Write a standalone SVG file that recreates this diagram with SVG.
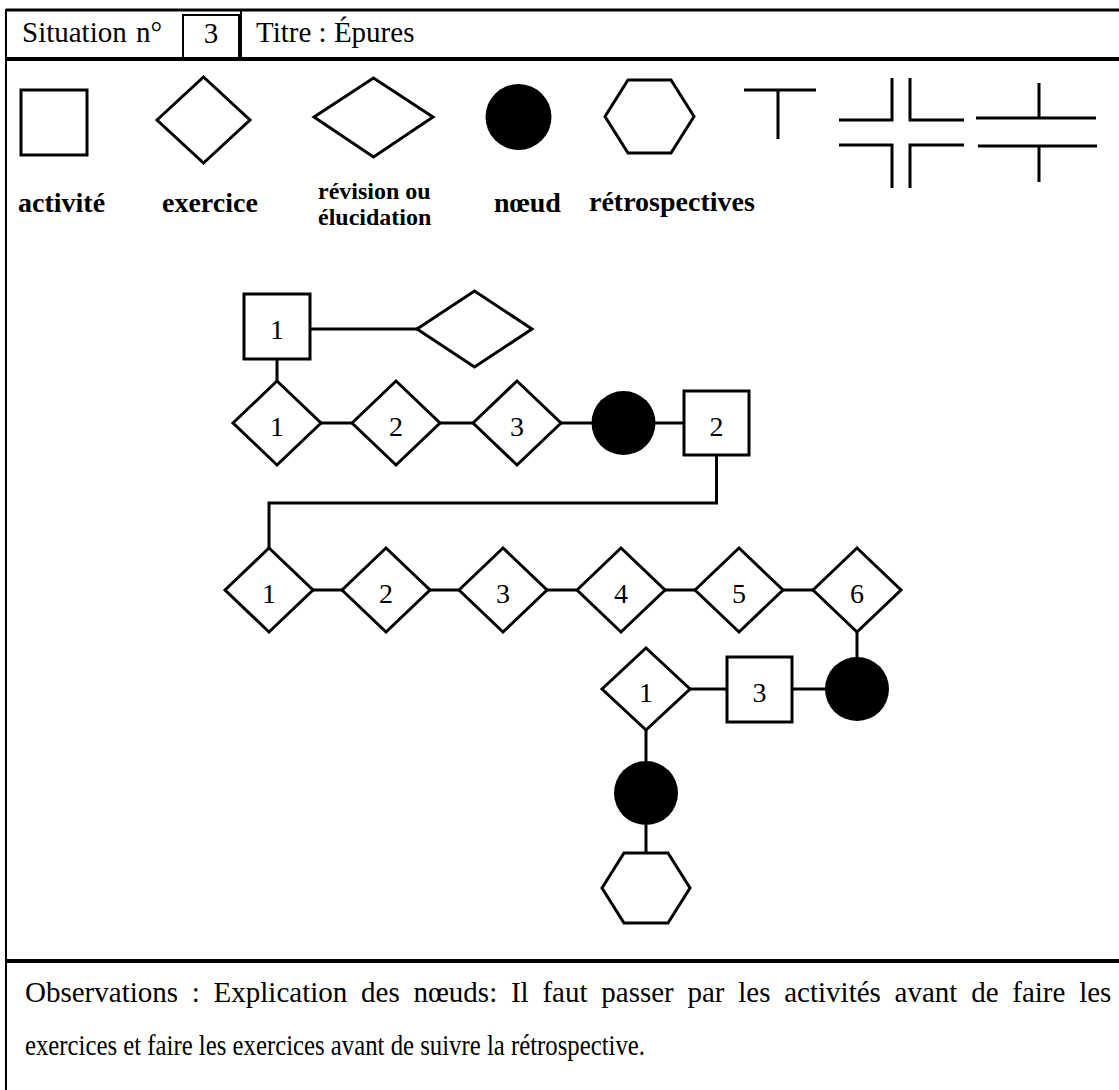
<svg xmlns="http://www.w3.org/2000/svg" width="1119" height="1090" viewBox="0 0 1119 1090">
<style>
.s{fill:#fff;stroke:#000;stroke-width:3;stroke-linejoin:miter}
.k{fill:#000;stroke:none}
.c{stroke:#000;stroke-width:3;fill:none}
.f{stroke:#000;fill:none}
.t{font-family:"Liberation Serif","Times New Roman",serif;fill:#000}
.n{font-size:28px;text-anchor:middle}
.b{font-weight:bold}
</style>
<rect width="1119" height="1090" fill="#fff"/>
<g id="frame" class="f">
<line x1="6" y1="10" x2="1119" y2="10" stroke-width="3"/>
<line x1="6" y1="9" x2="6" y2="1090" stroke-width="2"/>
<line x1="6" y1="59" x2="1119" y2="59" stroke-width="4"/>
<line x1="241" y1="10" x2="241" y2="59" stroke-width="2"/>
<rect x="183" y="15" width="56" height="44" stroke-width="2"/>
<line x1="6" y1="961" x2="1119" y2="961" stroke-width="4"/>
</g>
<g id="header" class="t" font-size="29">
<text x="22" y="42">Situation <tspan x="136">n°</tspan></text>
<text x="211" y="43" text-anchor="middle">3</text>
<text x="256" y="42">Titre : Épures</text>
</g>
<g id="legend">
<g id="leg-activite"><rect class="s" x="21" y="90" width="66" height="65"/><text class="t b" x="18" y="212" font-size="28">activité</text></g>
<g id="leg-exercice"><polygon class="s" points="157,120 203.5,77 250,120 203.5,163"/><text class="t b" x="162" y="212" font-size="28">exercice</text></g>
<g id="leg-revision"><polygon class="s" points="314,117 373.5,78 433,117 373.5,157"/><text class="t b" x="318" y="199" font-size="24">révision ou</text><text class="t b" x="318" y="225" font-size="24">élucidation</text></g>
<g id="leg-noeud"><circle class="k" cx="518.5" cy="117" r="33"/><text class="t b" x="494" y="212" font-size="28">nœud</text></g>
<g id="leg-retro"><polygon class="s" points="605,116.5 628,80 671,80 694,116.5 671,153 628,153"/><text class="t b" x="589" y="211" font-size="28">rétrospectives</text></g>
<g id="leg-links" class="c">
<path d="M744,90 H816 M778,90 V139"/>
<path d="M892,78 V120 H839 M910,78 V120 H964 M839,145 H892 V188 M964,145 H910 V188"/>
<path d="M976,118 H1096 M1039,83 V118 M978,146 H1097 M1039,146 V182"/>
</g>
</g>
<g id="connectors" class="c">
<line x1="310" y1="329" x2="417" y2="329"/>
<line x1="277" y1="359" x2="277" y2="381"/>
<line x1="321" y1="423" x2="352" y2="423"/>
<line x1="440" y1="423" x2="473" y2="423"/>
<line x1="561" y1="423" x2="592" y2="423"/>
<line x1="655" y1="423" x2="684" y2="423"/>
<path d="M716.5,455 V503 H269 V548"/>
<line x1="313" y1="590" x2="342" y2="590"/>
<line x1="430" y1="590" x2="459" y2="590"/>
<line x1="547" y1="590" x2="577" y2="590"/>
<line x1="665" y1="590" x2="695" y2="590"/>
<line x1="783" y1="590" x2="813" y2="590"/>
<line x1="857" y1="632" x2="857" y2="657"/>
<line x1="826" y1="689" x2="792" y2="689"/>
<line x1="727" y1="689" x2="690" y2="689"/>
<line x1="646" y1="730" x2="646" y2="761"/>
<line x1="646" y1="825" x2="646" y2="853"/>
</g>
<g id="a1"><rect class="s" x="244" y="294" width="66" height="65"/><text class="t n" x="277" y="339">1</text></g>
<g id="r1"><polygon class="s" points="417,329 474.5,291 532,329 474.5,367"/></g>
<g id="e1a"><polygon class="s" points="233,423 277,381 321,423 277,465"/><text class="t n" x="277" y="436">1</text></g>
<g id="e2a"><polygon class="s" points="352,423 396,381 440,423 396,465"/><text class="t n" x="396" y="436">2</text></g>
<g id="e3a"><polygon class="s" points="473,423 517,381 561,423 517,465"/><text class="t n" x="517" y="436">3</text></g>
<g id="n1"><circle class="k" cx="623.5" cy="423" r="32"/></g>
<g id="a2"><rect class="s" x="684" y="391" width="65" height="64"/><text class="t n" x="716.5" y="436">2</text></g>
<g id="e1b"><polygon class="s" points="225,590 269,548 313,590 269,632"/><text class="t n" x="269" y="603">1</text></g>
<g id="e2b"><polygon class="s" points="342,590 386,548 430,590 386,632"/><text class="t n" x="386" y="603">2</text></g>
<g id="e3b"><polygon class="s" points="459,590 503,548 547,590 503,632"/><text class="t n" x="503" y="603">3</text></g>
<g id="e4b"><polygon class="s" points="577,590 621,548 665,590 621,632"/><text class="t n" x="621" y="603">4</text></g>
<g id="e5b"><polygon class="s" points="695,590 739,548 783,590 739,632"/><text class="t n" x="739" y="603">5</text></g>
<g id="e6b"><polygon class="s" points="813,590 857,548 901,590 857,632"/><text class="t n" x="857" y="603">6</text></g>
<g id="n2"><circle class="k" cx="857" cy="689" r="32"/></g>
<g id="a3"><rect class="s" x="727" y="657" width="65" height="65"/><text class="t n" x="759.5" y="702">3</text></g>
<g id="e1c"><polygon class="s" points="602,689 646,648 690,689 646,730"/><text class="t n" x="646" y="702">1</text></g>
<g id="n3"><circle class="k" cx="646" cy="793" r="32"/></g>
<g id="retro"><polygon class="s" points="602,888 624,853 668,853 690,888 668,923 624,923"/></g>
<g id="observations" class="t" font-size="29">
<text x="25" y="1002" word-spacing="6.5">Observations : Explication des nœuds: Il faut passer par les activités avant de faire les</text>
<text x="25" y="1055" textLength="620" lengthAdjust="spacingAndGlyphs">exercices et faire les exercices avant de suivre la rétrospective.</text>
</g>
</svg>
